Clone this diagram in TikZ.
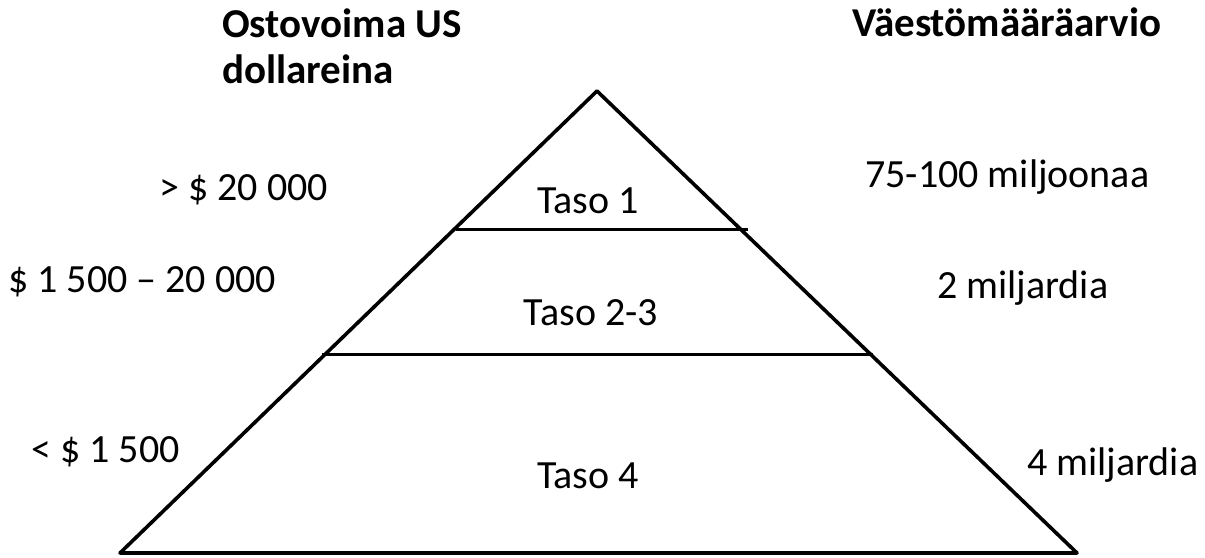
\documentclass[tikz,border=0pt]{standalone}
\usepackage{fontspec}
\setmainfont{Carlito}
\begin{document}
\begin{tikzpicture}[x=1pt,y=-1pt,
  lbl/.style={inner sep=0pt,font=\fontsize{40}{48}\selectfont},
  hdr/.style={inner sep=0pt,font=\fontsize{41}{49}\selectfont\bfseries},
  edge/.style={line width=3.6pt}]
\useasboundingbox (0,0) rectangle (1205,557);
% triangle
\coordinate (apex) at (597,91);
\coordinate (bl) at (120,553);
\coordinate (br) at (1077,553);
\draw[edge,line join=round] (apex) -- (bl) -- (br) -- cycle;
\coordinate (a1) at (456,229);
\coordinate (b1) at (748,229);
\coordinate (a2) at (322,354);
\coordinate (b2) at (873,354);
\draw[line width=3pt] (a1) -- (b1);
\draw[line width=3pt] (a2) -- (b2);
% headers
\node[hdr,anchor=base west] (h1) at (222,37) {Ostovoima US};
\node[hdr,anchor=base west] (h2) at (222,83) {dollareina};
\node[hdr,anchor=base west] (h3) at (852,36) {Väestömääräarvio};
% left
\node[lbl,anchor=base west] (l1) at (159,200) {> \$ 20 000};
\node[lbl,anchor=base west] (l2) at (8,292) {\$ 1 500 – 20 000};
\node[lbl,anchor=base west] (l3) at (31,462) {< \$ 1 500};
% levels
\node[lbl,anchor=base] (t1) at (588,213) {Taso 1};
\node[lbl,anchor=base] (t2) at (591,325) {Taso 2-3};
\node[lbl,anchor=base] (t3) at (588,488) {Taso 4};
% right
\node[lbl,anchor=base west] (r1) at (865,187) {75-100 miljoonaa};
\node[lbl,anchor=base west] (r2) at (937,298) {2 miljardia};
\node[lbl,anchor=base west] (r3) at (1027,475) {4 miljardia};
\end{tikzpicture}
\end{document}
